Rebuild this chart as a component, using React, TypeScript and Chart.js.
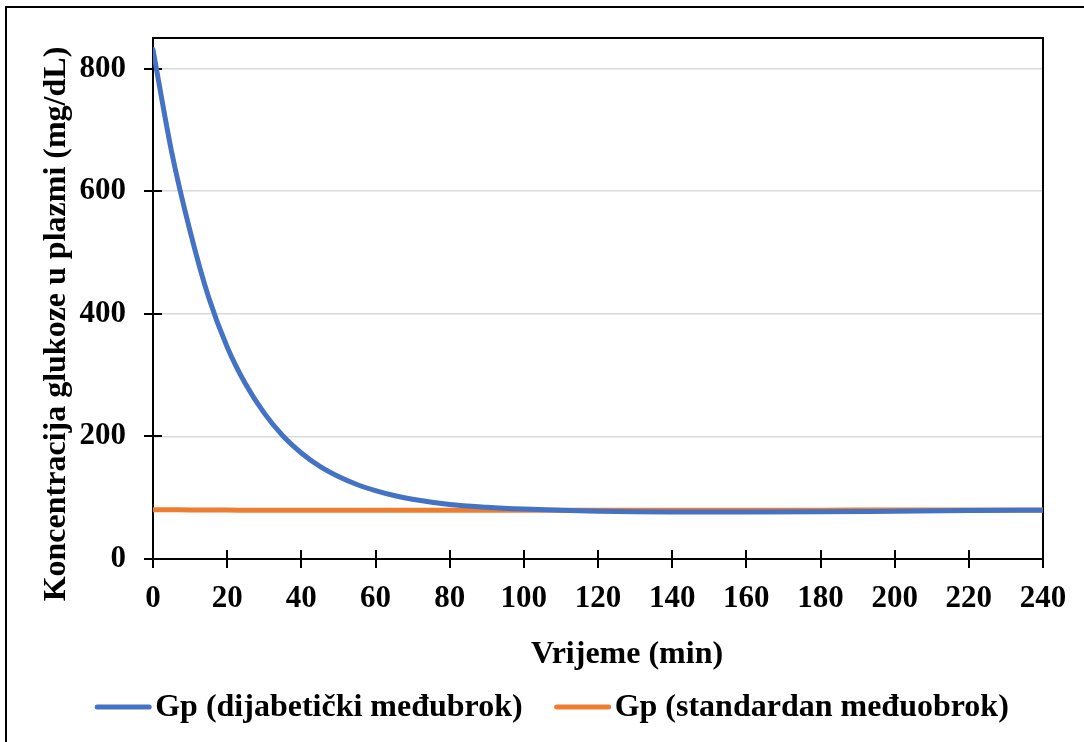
import React, { useEffect, useRef } from 'react';
import { Chart, registerables } from 'chart.js';

Chart.register(...registerables);

// ---- data ----
const timeMin = [0, 5, 10, 15, 20, 25, 30, 35, 40, 45, 50, 55, 60, 65, 70, 80, 90, 100, 110, 120, 130, 140, 160, 180, 200, 220, 240];
const gpDiabetic = [831, 665, 535, 427, 346, 285, 238, 201, 173, 151, 134.5, 121.5, 111.5, 103.5, 97.5, 89, 84.5, 81.5, 79.5, 78, 77, 76.5, 76.5, 77, 78, 79, 79.5];
const gpStandard = [80.5, 80.3, 80, 80, 79.8, 79.7, 79.6, 79.5, 79.5, 79.5, 79.5, 79.5, 79.5, 79.5, 79.5, 79.5, 79.5, 79.5, 79.5, 79.5, 79.5, 79.5, 79.6, 79.7, 79.9, 80, 80];
const xTicks = [0, 20, 40, 60, 80, 100, 120, 140, 160, 180, 200, 220, 240];
const yTicks = [0, 200, 400, 600, 800];
const seriesLabels = ['Gp (dijabetički međubrok)', 'Gp (standardan međuobrok)'];
const seriesColors = ['#4472C4', '#ED7D31'];
const xTitle = 'Vrijeme (min)';
const yTitle = 'Koncentracija glukoze u plazmi (mg/dL)';

const FONT_FAMILY = '"Liberation Serif", "Times New Roman", serif';
const TICK_SIZE = 31;
const TITLE_SIZE = 32;

const decorPlugin = {
  id: 'decor',
  beforeDraw(chart: any) {
    const ctx = chart.ctx;
    ctx.save();
    ctx.fillStyle = '#ffffff';
    ctx.fillRect(0, 0, chart.width, chart.height);
    ctx.strokeStyle = '#000000';
    ctx.lineWidth = 2;
    ctx.strokeRect(6, 7, chart.width + 40, chart.height + 40);
    ctx.restore();
  },
  beforeDatasetsDraw(chart: any) {
    const { ctx, chartArea: a, scales } = chart;
    ctx.save();
    ctx.strokeStyle = '#000000';
    ctx.lineWidth = 2;
    ctx.beginPath();
    ctx.moveTo(a.left, a.top);
    ctx.lineTo(a.right, a.top);
    ctx.lineTo(a.right, a.bottom);
    ctx.stroke();
    ctx.beginPath();
    for (const v of yTicks) {
      const y = Math.round(scales.y.getPixelForValue(v));
      ctx.moveTo(a.left - 9, y);
      ctx.lineTo(a.left + 9, y);
    }
    for (const v of xTicks) {
      const x = Math.round(scales.x.getPixelForValue(v));
      ctx.moveTo(x, a.bottom - 9);
      ctx.lineTo(x, a.bottom + 9);
    }
    ctx.stroke();
    ctx.restore();
  },
  afterDraw(chart: any) {
    const ctx = chart.ctx;
    ctx.save();
    ctx.fillStyle = '#000000';
    ctx.font = `bold ${TITLE_SIZE}px ${FONT_FAMILY}`;
    ctx.textAlign = 'center';
    ctx.textBaseline = 'middle';
    // x title
    ctx.fillText(xTitle, 627, 655);
    // y title
    ctx.save();
    ctx.translate(57, 324);
    ctx.rotate(-Math.PI / 2);
    ctx.fillText(yTitle, 0, 0);
    ctx.restore();
    // legend
    const lineW = 56;
    const gapText = 4;
    const gapItem = 32;
    const w0 = ctx.measureText(seriesLabels[0]).width;
    const w1 = ctx.measureText(seriesLabels[1]).width;
    const total = lineW + gapText + w0 + gapItem + lineW + gapText + w1;
    let x = 552 - total / 2;
    const y = 708;
    ctx.textAlign = 'left';
    ctx.lineCap = 'round';
    ctx.lineWidth = 5;
    for (let i = 0; i < 2; i++) {
      ctx.strokeStyle = seriesColors[i];
      ctx.beginPath();
      ctx.moveTo(x + 2, y - 1);
      ctx.lineTo(x + lineW - 2, y - 1);
      ctx.stroke();
      x += lineW + gapText;
      ctx.fillText(seriesLabels[i], x, y);
      x += (i === 0 ? w0 : w1) + gapItem;
    }
    ctx.restore();
  },
};

export default function App() {
  const canvasRef = useRef<HTMLCanvasElement | null>(null);

  useEffect(() => {
    if (!canvasRef.current) return;
    const tickFont = { family: FONT_FAMILY, size: TICK_SIZE, weight: 'bold' as const };
    const chart = new Chart(canvasRef.current, {
      type: 'line',
      data: {
        datasets: [
          {
            label: seriesLabels[0],
            data: timeMin.map((t, i) => ({ x: t, y: gpDiabetic[i] })),
            borderColor: seriesColors[0],
            backgroundColor: seriesColors[0],
            borderWidth: 5,
            pointRadius: 0,
            cubicInterpolationMode: 'monotone',
            borderCapStyle: 'round',
          },
          {
            label: seriesLabels[1],
            data: timeMin.map((t, i) => ({ x: t, y: gpStandard[i] })),
            borderColor: seriesColors[1],
            backgroundColor: seriesColors[1],
            borderWidth: 5,
            pointRadius: 0,
            cubicInterpolationMode: 'monotone',
            borderCapStyle: 'round',
          },
        ],
      },
      options: {
        responsive: false,
        animation: false,
        devicePixelRatio: 1,
        layout: { autoPadding: false, padding: { top: 38, right: 41, left: 0, bottom: 0 } },
        plugins: {
          legend: { display: false },
          title: { display: false },
          tooltip: { enabled: false },
        },
        scales: {
          x: {
            type: 'linear',
            min: 0,
            max: 240,
            afterFit: (s: any) => {
              s.height = 183;
              s.paddingLeft = 0;
              s.paddingRight = 0;
              s.paddingTop = 0;
              s.paddingBottom = 0;
            },
            afterBuildTicks: (s: any) => { s.ticks = xTicks.map((v) => ({ value: v })); },
            ticks: { stepSize: 20, color: '#000', font: tickFont, padding: 21, maxRotation: 0 },
            grid: { display: false, drawTicks: false },
            border: { display: true, color: '#000', width: 2 },
          },
          y: {
            type: 'linear',
            min: 0,
            max: 850,
            afterFit: (s: any) => {
              s.width = 153;
              s.paddingLeft = 0;
              s.paddingRight = 0;
              s.paddingTop = 0;
              s.paddingBottom = 0;
            },
            afterBuildTicks: (s: any) => { s.ticks = yTicks.map((v) => ({ value: v })); },
            ticks: { stepSize: 200, color: '#000', font: tickFont, padding: 27 },
            grid: { color: '#d9d9d9', lineWidth: 1.5, drawTicks: false },
            border: { display: true, color: '#000', width: 2 },
          },
        },
      },
      plugins: [decorPlugin],
    });
    return () => chart.destroy();
  }, []);

  return (
    <div style={{ position: 'fixed', left: 0, top: 0, width: 1084, height: 742, background: '#fff' }}>
      <canvas ref={canvasRef} width={1084} height={742} style={{ display: 'block' }} />
    </div>
  );
}
